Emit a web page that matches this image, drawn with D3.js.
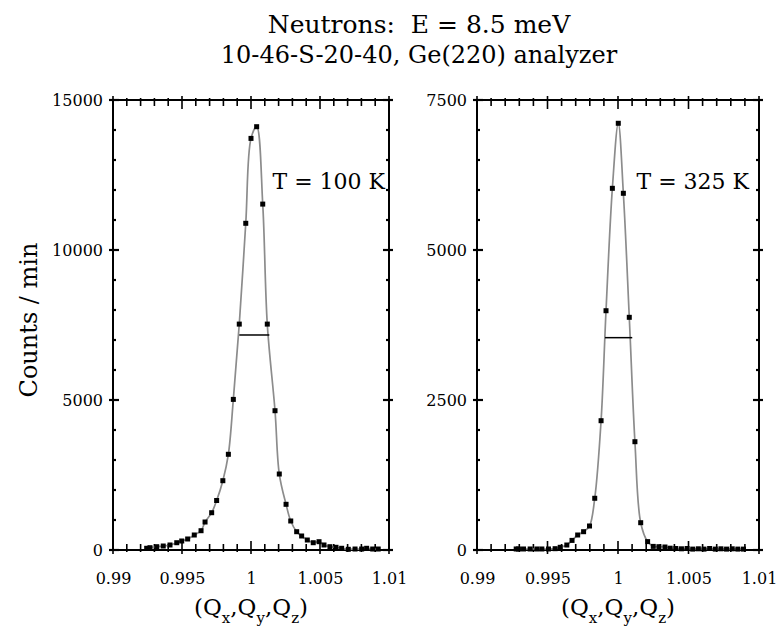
<!DOCTYPE html>
<html>
<head>
<meta charset="utf-8">
<script src="https://cdn.jsdelivr.net/npm/d3@7"></script>
<style>
  body { margin: 0; background: #fff; }
  svg text { font-family: "DejaVu Serif", serif; fill: #000; }
</style>
</head>
<body>
<div id="chart"></div>
<script>
// Données
// T = 100 K
const qLeft = [0.99244, 0.99268, 0.99317, 0.99364, 0.99413, 0.99462, 0.99498, 0.99541, 0.99589, 0.99638,
  0.99667, 0.99715, 0.99751, 0.99796, 0.99836, 0.99872, 0.99915, 0.99962, 1.00000, 1.00041,
  1.00085, 1.00118, 1.00174, 1.00205, 1.00254, 1.00288, 1.00331, 1.00367, 1.00408, 1.00451,
  1.00493, 1.00529, 1.00572, 1.00616, 1.00657, 1.00705, 1.00754, 1.00802, 1.00838, 1.00882, 1.00922];
const cLeft = [57, 77, 110, 133, 167, 243, 300, 367, 500, 643,
  933, 1243, 1650, 2310, 3190, 5020, 7530, 10890, 13720, 14110,
  11530, 7530, 4643, 2533, 1523, 967, 610, 467, 333, 243,
  277, 167, 110, 90, 57, 23, 33, 33, 57, 33, 33];
// T = 325 K
const qRight = [0.99278, 0.99294, 0.99330, 0.99377, 0.99425, 0.99460, 0.99507, 0.99554, 0.99590, 0.99637,
  0.99674, 0.99714, 0.99756, 0.99798, 0.99835, 0.99880, 0.99915, 0.99960, 1.00002, 1.00038,
  1.00080, 1.00120, 1.00161, 1.00210, 1.00250, 1.00290, 1.00333, 1.00370, 1.00410, 1.00450,
  1.00490, 1.00530, 1.00570, 1.00610, 1.00650, 1.00690, 1.00730, 1.00770, 1.00810, 1.00850, 1.00890];
const cRight = [17, 17, 17, 17, 17, 17, 17, 22, 45, 83,
  160, 250, 305, 400, 862, 2155, 3988, 6028, 7112, 5945,
  3878, 1805, 455, 140, 60, 55, 50, 30, 25, 20,
  25, 15, 20, 15, 25, 15, 20, 15, 20, 15, 15];

// largeur a mi-hauteur : [debut, fin, hauteur]
const fwhmLeft = [0.99915, 1.00133, 7167];
const fwhmRight = [0.99908, 1.00101, 3539];

const xDomain = [0.99, 1.01];
const xTicks = [0.99, 0.995, 1, 1.005, 1.01];
const xTickLabels = ["0.99", "0.995", "1", "1.005", "1.01"];
const yTicksLeft = [0, 5000, 10000, 15000];
const yTicksRight = [0, 2500, 5000, 7500];
const tempLabels = ["T = 100 K", "T = 325 K"];

const width = 777, height = 634;
const plotTop = 100, plotBottom = 550;
const serif = '"DejaVu Serif", serif';

const svg = d3.select("#chart").append("svg")
  .attr("width", width)
  .attr("height", height);

// titre
svg.append("text").attr("x", 419).attr("y", 33)
  .attr("text-anchor", "middle").style("font-size", "25px")
  .style("white-space", "pre")
  .text("Neutrons:  E = 8.5 meV");
svg.append("text").attr("x", 419).attr("y", 63)
  .attr("text-anchor", "middle").style("font-size", "24px")
  .text("10-46-S-20-40, Ge(220) analyzer");

// titre axe y
svg.append("text")
  .attr("transform", "translate(37,320) rotate(-90)")
  .attr("text-anchor", "middle").style("font-size", "24px")
  .text("Counts / min");

const panels = [
  { left: 113, right: 389, q: qLeft, c: cLeft, yMax: 15000, yTicks: yTicksLeft, yMinor: 1000, fwhm: fwhmLeft, label: tempLabels[0], labelX: 385 },
  { left: 477, right: 759, q: qRight, c: cRight, yMax: 7500, yTicks: yTicksRight, yMinor: 500, fwhm: fwhmRight, label: tempLabels[1], labelX: 749 }
];

panels.forEach(function (p) {
  const x = d3.scaleLinear().domain(xDomain).range([p.left, p.right]);
  const y = d3.scaleLinear().domain([0, p.yMax]).range([plotBottom, plotTop]);
  const g = svg.append("g");

  const xMinor = d3.range(0, 21).map(function (i) { return 0.99 + i * 0.001; });
  const yMinorTicks = d3.range(0, p.yMax + 1, p.yMinor);

  // axe du bas
  const bx = g.append("g").attr("transform", "translate(0," + plotBottom + ")")
    .call(d3.axisBottom(x).tickValues(xTicks).tickFormat(function (d, i) { return xTickLabels[i]; }).tickSize(0).tickPadding(23));
  bx.select(".domain").remove();
  bx.selectAll("text").style("font-size", "16px").style("font-family", serif);

  // graduations x (haut et bas)
  [plotBottom, plotTop].forEach(function (yy) {
    const dir = yy === plotBottom ? -1 : 1;
    g.selectAll(null).data(xMinor).enter().append("line")
      .attr("x1", function (d) { return x(d); })
      .attr("x2", function (d) { return x(d); })
      .attr("y1", function (d, i) { return yy - dir * (i % 5 === 0 ? 4 : 2); })
      .attr("y2", function (d, i) { return yy + dir * (i % 5 === 0 ? 9 : 6); })
      .attr("stroke", "#000").attr("stroke-width", 1.6);
  });

  // axe gauche
  const ly = g.append("g").attr("transform", "translate(" + p.left + ",0)")
    .call(d3.axisLeft(y).tickValues(p.yTicks).tickSize(0).tickPadding(10).tickFormat(d3.format("d")));
  ly.select(".domain").remove();
  ly.selectAll("text").style("font-size", "16px").style("font-family", serif);

  // graduations y (gauche et droite)
  [p.left, p.right].forEach(function (xx) {
    const dir = xx === p.left ? 1 : -1;
    g.selectAll(null).data(yMinorTicks).enter().append("line")
      .attr("x1", function (d) { return xx - dir * (p.yTicks.indexOf(d) >= 0 ? 4 : 0); })
      .attr("x2", function (d) { return xx + dir * (p.yTicks.indexOf(d) >= 0 ? 6 : 3); })
      .attr("y1", function (d) { return y(d); })
      .attr("y2", function (d) { return y(d); })
      .attr("stroke", "#000").attr("stroke-width", 2.2);
  });

  // cadre
  g.append("rect")
    .attr("x", p.left).attr("y", plotTop)
    .attr("width", p.right - p.left).attr("height", plotBottom - plotTop)
    .attr("fill", "none").attr("stroke", "#000").attr("stroke-width", 2);

  const pts = p.q.map(function (q, i) { return [q, p.c[i]]; });

  // courbe ajustée
  g.append("path")
    .datum(pts)
    .attr("d", d3.line()
      .x(function (d) { return x(d[0]); })
      .y(function (d) { return y(d[1]); })
      .curve(d3.curveCatmullRom.alpha(0.5)))
    .attr("fill", "none")
    .attr("stroke", "#8c8c8c")
    .attr("stroke-width", 1.7);

  // points
  g.selectAll(null).data(pts).enter().append("rect")
    .attr("x", function (d) { return x(d[0]) - 2.5; })
    .attr("y", function (d) { return y(d[1]) - 2.5; })
    .attr("width", 5).attr("height", 5)
    .attr("fill", "#000");

  // largeur a mi-hauteur
  g.append("line")
    .attr("x1", x(p.fwhm[0])).attr("x2", x(p.fwhm[1]))
    .attr("y1", y(p.fwhm[2])).attr("y2", y(p.fwhm[2]))
    .attr("stroke", "#000").attr("stroke-width", 1.5);

  // temperature
  g.append("text").attr("x", p.labelX).attr("y", 189)
    .attr("text-anchor", "end").style("font-size", "22px")
    .text(p.label);

  // titre axe x
  const xl = g.append("text").attr("x", (p.left + p.right) / 2).attr("y", 615)
    .attr("text-anchor", "middle").style("font-size", "23px");
  xl.append("tspan").text("(Q");
  xl.append("tspan").attr("dy", 8).style("font-size", "15px").text("x");
  xl.append("tspan").attr("dy", -8).text(",Q");
  xl.append("tspan").attr("dy", 8).style("font-size", "15px").text("y");
  xl.append("tspan").attr("dy", -8).text(",Q");
  xl.append("tspan").attr("dy", 8).style("font-size", "15px").text("z");
  xl.append("tspan").attr("dy", -8).text(")");
});
</script>
</body>
</html>
